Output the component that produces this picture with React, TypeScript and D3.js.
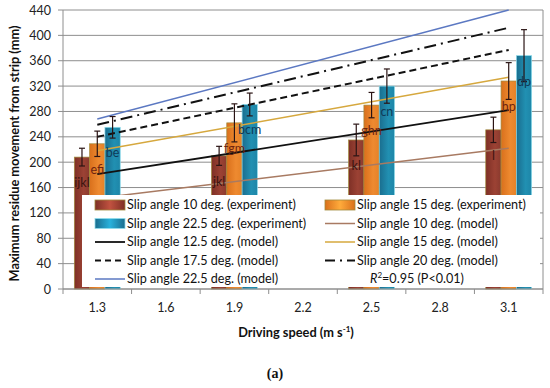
import React from 'react';
import * as d3 from 'd3';

// category axis (driving speed, m/s)
const speeds = ["1.3", "1.6", "1.9", "2.2", "2.5", "2.8", "3.1"];
const barSpeeds = ["1.3", "1.9", "2.5", "3.1"];
const yTicks = [0, 40, 80, 120, 160, 200, 240, 280, 320, 360, 400, 440];

// experiment means (mm) and error half-ranges
const exp10 = [208, 210, 235, 251];
const exp15 = [229, 262, 290, 328];
const exp225 = [255, 291, 320, 368];
const exp10Err = [14, 15, 25, 20];
const exp15Err = [20, 30, 20, 29];
const exp225Err = [17, 18, 27, 41];
const lab10 = ["ijkl", "jkl", "kl", "l"];
const lab15 = ["efi", "fgm", "ghn", "hp"];
const lab225 = ["be", "bcm", "cn", "dp"];

// model lines, values at 1.3 and 3.1
const modelSpeeds = ["1.3", "3.1"];
const model10 = [143, 222];
const model125 = [181, 282];
const model15 = [218, 334];
const model175 = [240, 377];
const model20 = [259, 412];
const model225 = [268, 440];

const W = 550, H = 388;
const left = 63, right = 543, top = 10, bottom = 289;
const font = "Lato, 'Open Sans', sans-serif";

const barSeries = [
  { key: "10", vals: exp10, err: exp10Err, labs: lab10, grad: "gRed", stroke: "#a08a3c", text: "#3b1410" },
  { key: "15", vals: exp15, err: exp15Err, labs: lab15, grad: "gOrange", stroke: "#a08a3c", text: "#6e2410" },
  { key: "22.5", vals: exp225, err: exp225Err, labs: lab225, grad: "gBlue", stroke: "#8fdcec", text: "#0f3b58" },
];

const lineSeries = [
  { vals: model10, color: "#a87a62", width: 1.5, dash: null },
  { vals: model125, color: "#111", width: 1.8, dash: null },
  { vals: model15, color: "#d6a83e", width: 1.5, dash: null },
  { vals: model175, color: "#111", width: 2, dash: "7,4" },
  { vals: model20, color: "#111", width: 2, dash: "12,5,2,5" },
  { vals: model225, color: "#5b78c2", width: 1.5, dash: null },
];

export default function App() {
  const x = d3.scaleBand().domain(speeds).range([left, right]).padding(0);
  const xi = d3.scaleBand().domain(barSeries.map(s => s.key)).range([0, x.bandwidth()]).paddingOuter(0.74);
  const y = d3.scaleLinear().domain([0, 440]).range([bottom, top]);
  const cx = (s: string) => (x(s) as number) + x.bandwidth() / 2;
  const line = d3.line<number>().x((d, i) => cx(modelSpeeds[i])).y(d => y(d));

  const legendLeft = [
    { t: "Slip angle 10 deg. (experiment)", sym: "bar", s: 0 },
    { t: "Slip angle 22.5 deg. (experiment)", sym: "bar", s: 2 },
    { t: "Slip angle 12.5 deg. (model)", sym: "line", s: 1 },
    { t: "Slip angle 17.5 deg. (model)", sym: "line", s: 3 },
    { t: "Slip angle 22.5 deg. (model)", sym: "line", s: 5 },
  ];
  const legendRight = [
    { t: "Slip angle 15 deg. (experiment)", sym: "bar", s: 1 },
    { t: "Slip angle 10 deg. (model)", sym: "line", s: 0 },
    { t: "Slip angle 15 deg. (model)", sym: "line", s: 2 },
    { t: "Slip angle 20 deg. (model)", sym: "line", s: 4 },
  ];
  const rowY = [205, 223.5, 242, 260.5, 279];

  const legendItem = (it: any, i: number, x0: number) => {
    const yy = rowY[i];
    let sym;
    if (it.sym === "bar") {
      const b = barSeries[it.s];
      sym = <rect x={x0} y={yy - 5} width={30} height={10} fill={`url(#${b.grad}L)`} stroke={b.stroke} strokeWidth={0.8} />;
    } else {
      const l = lineSeries[it.s];
      sym = <line x1={x0} x2={x0 + 30} y1={yy} y2={yy} stroke={l.color} strokeWidth={l.width}
        strokeDasharray={l.dash ? (it.s === 4 ? "10,5,2,5" : "6,4") : undefined} />;
    }
    return (
      <g key={it.t}>
        {sym}
        <text x={x0 + 32} y={yy + 4.4} fontSize={12.6} fontFamily={font} fill="#111">{it.t}</text>
      </g>
    );
  };

  const grads = [
    { id: "gRed", c: ["#7e3026", "#9c4234", "#8a3a2e"] },
    { id: "gOrange", c: ["#d9701c", "#ee8a30", "#e58228"] },
    { id: "gBlue", c: ["#1a6d8e", "#2190b2", "#1e86a8"] },
  ];

  return (
    <svg width={W} height={H} style={{ position: "absolute", left: 0, top: 0, background: "#fff" }}>
      <defs>
        {grads.map(g => (
          <linearGradient key={g.id} id={g.id} x1="0" x2="1" y1="0" y2="0">
            <stop offset="0" stopColor={g.c[0]} />
            <stop offset="0.6" stopColor={g.c[1]} />
            <stop offset="1" stopColor={g.c[2]} />
          </linearGradient>
        ))}
        {grads.map(g => (
          <linearGradient key={g.id + "L"} id={g.id + "L"} x1="0" x2="1" y1="0" y2="0">
            <stop offset="0" stopColor={g.c[0]} />
            <stop offset="0.5" stopColor={d3.color(g.c[1])!.brighter(0.6).formatHex()} />
            <stop offset="1" stopColor={g.c[0]} />
          </linearGradient>
        ))}
      </defs>

      {/* gridlines */}
      {yTicks.map(t => (
        <line key={t} x1={left} x2={right} y1={y(t)} y2={y(t)} stroke="#8e8e8e" strokeWidth={1} />
      ))}
      <line x1={right} x2={right} y1={top} y2={bottom} stroke="#8e8e8e" />

      {/* bars */}
      {barSeries.map(s => (
        <g key={s.key}>
          {barSpeeds.map((sp, i) => {
            const bx = (x(sp) as number) + (xi(s.key) as number);
            return (
              <rect key={sp} x={bx} y={y(s.vals[i])} width={xi.bandwidth()} height={bottom - y(s.vals[i])}
                fill={`url(#${s.grad})`} stroke={s.stroke} strokeWidth={0.7} />
            );
          })}
        </g>
      ))}

      {/* model lines */}
      {lineSeries.map((l, i) => (
        <path key={i} d={line(l.vals) as string} fill="none" stroke={l.color} strokeWidth={l.width}
          strokeDasharray={l.dash || undefined} />
      ))}

      {/* error bars and letters */}
      {barSeries.map(s => (
        <g key={s.key}>
          {barSpeeds.map((sp, i) => {
            const mx = (x(sp) as number) + (xi(s.key) as number) + xi.bandwidth() / 2;
            const hi = y(s.vals[i] + s.err[i]), lo = y(s.vals[i] - s.err[i]);
            return (
              <g key={sp}>
                <line x1={mx} x2={mx} y1={hi} y2={lo} stroke="#2a1414" strokeWidth={1.2} />
                <line x1={mx - 3} x2={mx + 3} y1={hi} y2={hi} stroke="#2a1414" strokeWidth={1.2} />
                <line x1={mx - 3} x2={mx + 3} y1={lo} y2={lo} stroke="#2a1414" strokeWidth={1.2} />
                <text x={mx} y={y(s.vals[i]) + 30} textAnchor="middle" fontSize={12.5} fontFamily={font} fill={s.text}>{s.labs[i]}</text>
              </g>
            );
          })}
        </g>
      ))}

      {/* legend */}
      <rect x={82} y={195} width={458} height={92} fill="#fff" />
      {legendLeft.map((it, i) => legendItem(it, i, 95))}
      {legendRight.map((it, i) => legendItem(it, i, 325))}
      <text x={417} y={rowY[4] + 4.4} textAnchor="middle" fontSize={12.6} fontFamily={font} fill="#111">
        <tspan fontStyle="italic">R</tspan><tspan fontSize={8} dy={-5}>2</tspan><tspan dy={5}>=0.95 (P&lt;0.01)</tspan>
      </text>

      {/* axes */}
      <line x1={left} x2={left} y1={top} y2={bottom} stroke="#8e8e8e" />
      <line x1={left} x2={right} y1={bottom} y2={bottom} stroke="#8e8e8e" />
      {yTicks.map(t => (
        <g key={t}>
          <line x1={left - 5} x2={left} y1={y(t)} y2={y(t)} stroke="#8e8e8e" />
          <text x={51} y={y(t) + 4.5} textAnchor="end" fontSize={12.5} fontFamily={font} fill="#222">{t}</text>
        </g>
      ))}
      {speeds.map(s => (
        <g key={s}>
          <line x1={(x(s) as number) + x.bandwidth()} x2={(x(s) as number) + x.bandwidth()} y1={bottom} y2={bottom + 5} stroke="#8e8e8e" />
          <text x={cx(s)} y={312} textAnchor="middle" fontSize={12.5} fontFamily={font} fill="#222">{s}</text>
        </g>
      ))}
      <line x1={left} x2={left} y1={bottom} y2={bottom + 5} stroke="#8e8e8e" />

      <text x={296} y={337} textAnchor="middle" fontSize={12.8} fontWeight="bold" fontFamily={font} fill="#111">
        Driving speed (m s<tspan fontSize={8} dy={-5}>-1</tspan><tspan dy={5}>)</tspan>
      </text>
      <text transform={`translate(19,${(top + bottom) / 2 + 4}) rotate(-90)`} textAnchor="middle" fontSize={12.8}
        fontWeight="bold" fontFamily={font} fill="#111">Maximum residue movement from strip (mm)</text>
      <text x={275} y={378} textAnchor="middle" fontSize={14} fontWeight="bold" fontFamily="'Liberation Serif', 'Times New Roman', serif" fill="#111">(a)</text>
    </svg>
  );
}
